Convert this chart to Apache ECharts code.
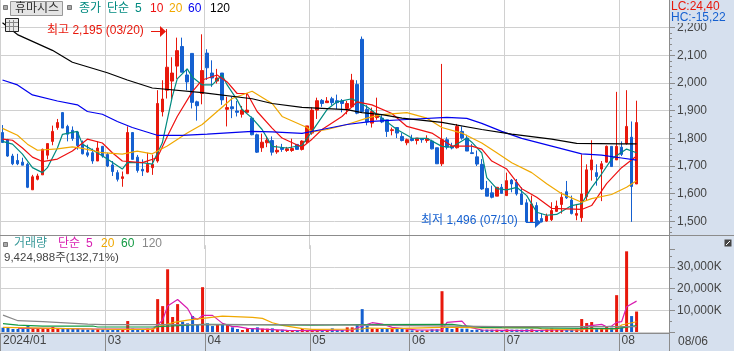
<!DOCTYPE html>
<html>
<head>
<meta charset="utf-8">
<style>
html, body { margin: 0; padding: 0; background: #fff; }
#chart { width: 734px; height: 351px; }
</style>
<script src="https://cdn.jsdelivr.net/npm/echarts@6/dist/echarts.min.js"></script>
</head>
<body>
<div id="chart"></div>
<script>
const dates = [
    '01/30','01/31',
    '02/01','02/02','02/05','02/06','02/07','02/08','02/13','02/14','02/15','02/16','02/19','02/20','02/21','02/22','02/23','02/26','02/27','02/28','02/29',
    '03/04','03/05','03/06','03/07','03/08','03/11','03/12','03/13','03/14','03/15','03/18','03/19','03/20','03/21','03/22','03/25','03/26','03/27','03/28','03/29',
    '04/01','04/02','04/03','04/04','04/05','04/08','04/09','04/11','04/12','04/15','04/16','04/17','04/18','04/19','04/22','04/23','04/24','04/25','04/26','04/29','04/30',
    '05/02','05/03','05/07','05/08','05/09','05/10','05/13','05/14','05/16','05/17','05/20','05/21','05/22','05/23','05/24','05/27','05/28','05/29','05/30','05/31',
    '06/03','06/04','06/05','06/07','06/10','06/11','06/12','06/13','06/14','06/17','06/18','06/19','06/20','06/21','06/24','06/25','06/26','06/27','06/28',
    '07/01','07/02','07/03','07/04','07/05','07/08','07/09','07/10','07/11','07/12','07/15','07/16','07/17','07/18','07/19','07/22','07/23','07/24','07/25','07/26','07/29','07/30','07/31',
    '08/01','08/02','08/05','08/06'
];
const blankSlots = ['', '', '', '', '', ''];
const monthStarts = [0, 21, 41, 62, 82, 101, 124];
const monthLabels = ['2024/01', '03', '04', '05', '06', '07', '08'];

const opens = [
    1821,1795,1736,1720,1714,1706,1614,1652,1668,1739,1789,1839,1893,1843,1829,1823,1780,1748,1748,1718,
    1771,1742,1704,1676,1655,1672,1821,1732,1688,1678,1694,1718,1896,1974,2007,2061,2132,2029,2107,1932,
    1962,2108,2036,2007,2036,1905,1914,1899,1887,1894,1873,1813,1766,1784,1792,1751,1766,1756,1756,1778,
    1760,1787,1819,1902,1937,1929,1943,1936,1935,1908,1914,1995,2158,1905,1855,1875,1873,1867,1828,1839,
    1807,1784,1799,1792,1799,1792,1790,1766,1708,1795,1772,1766,1825,1801,1748,1733,1706,1619,1603,1591,
    1623,1593,1649,1641,1599,1567,1498,1557,1510,1501,1506,1536,1561,1607,1577,1522,1513,1589,1686,1676,
    1689,1714,1771,1722,1768,1781,1804,1635
];
const closes = [
    1785,1736,1708,1708,1703,1623,1661,1664,1760,1781,1825,1857,1837,1815,1799,1774,1744,1739,1718,1765,
    1736,1700,1680,1652,1661,1821,1724,1684,1682,1706,1706,1926,1942,2057,2036,2117,2039,2004,1930,1918,
    2045,2055,2018,2018,1939,1911,1907,1894,1902,1902,1813,1750,1786,1793,1750,1757,1760,1762,1763,1760,
    1790,1845,1902,1936,1926,1935,1929,1929,1926,1926,2010,1891,1897,1859,1897,1888,1859,1825,1831,1819,
    1792,1795,1792,1801,1795,1799,1762,1708,1795,1768,1765,1843,1801,1754,1745,1707,1617,1591,1587,1623,
    1601,1647,1635,1599,1561,1498,1563,1506,1498,1519,1539,1555,1587,1585,1528,1528,1599,1686,1722,1662,
    1708,1771,1698,1771,1742,1843,1626,1857
];
const highs = [
    1848,1798,1744,1744,1730,1712,1668,1672,1763,1781,1846,1870,1895,1849,1843,1825,1792,1777,1763,1789,
    1771,1748,1718,1685,1680,1843,1821,1740,1724,1748,1741,1974,2010,2195,2093,2164,2164,2051,2107,1936,
    2176,2122,2082,2051,2036,1950,1950,1935,1917,1962,1879,1817,1817,1807,1807,1775,1780,1769,1799,1778,
    1793,1845,1911,1947,1942,1949,1950,1958,1942,1935,2033,2010,2168,1920,1911,1947,1885,1867,1839,1839,
    1819,1799,1813,1801,1801,1811,1795,1766,2069,1804,1784,1852,1843,1813,1780,1756,1725,1646,1629,1623,
    1635,1676,1653,1653,1623,1580,1593,1569,1528,1528,1569,1575,1605,1646,1593,1563,1742,1706,1793,1706,
    1718,1774,1771,1968,1789,1974,1861,1936
];
const lows = [
    1783,1733,1703,1703,1703,1620,1614,1648,1668,1724,1775,1831,1837,1789,1791,1759,1742,1732,1708,1718,
    1730,1696,1664,1644,1625,1672,1724,1676,1664,1676,1668,1712,1879,1944,1942,2015,2039,1974,1908,1864,
    1923,2011,1986,1998,1921,1843,1873,1879,1875,1894,1811,1747,1751,1768,1738,1744,1751,1751,1751,1760,
    1756,1780,1813,1870,1914,1929,1920,1906,1894,1887,1911,1887,1894,1847,1839,1867,1855,1805,1811,1801,
    1789,1775,1789,1778,1784,1784,1760,1708,1700,1760,1760,1763,1795,1754,1744,1700,1614,1591,1583,1591,
    1599,1593,1605,1593,1561,1498,1498,1501,1496,1499,1501,1534,1528,1581,1525,1504,1498,1575,1647,1629,
    1573,1712,1698,1722,1736,1777,1498,1635
];
const volumes = [
    1990,1990,1380,1380,1680,2750,1680,1680,1530,1530,2300,1380,1530,1530,1530,1530,1220,1070,1220,1220,
    1220,920,920,1070,920,5050,1530,1380,1380,1530,1530,15150,11930,28900,6900,12850,4750,4000,7350,3200,
    20650,4000,2750,3200,3200,3200,2140,1380,920,1680,1530,2140,1530,1530,1680,920,1070,610,765,765,
    1380,765,920,920,920,920,1680,920,920,2140,2140,3670,10550,2900,1530,1530,1530,1380,1380,1530,
    1840,1220,765,765,765,765,1220,1220,18800,1840,1380,2450,1530,1530,920,1070,1070,1070,1070,1070,
    920,1220,1070,1070,1070,1220,1220,920,920,1220,1530,1220,1070,920,1220,1220,5970,4130,4590,1680,
    1530,2450,1990,16980,2140,37180,7340,9425
];

// moving averages, at the candles listed in the *At arrays
const ma5At = [0,2,4,6,8,9,11,12,15,16,19,21,24,25,28,30,32,34,35,37,38,40,42,44,45,47,48,50,52,54,57,60,62,65,67,70,73,76,79,82,85,88,90,93,94,96,97,99,101,103,105,107,109,111,114,116,118,120,122,125,127];
const ma5 = [1789,1779,1743,1694,1676,1694,1765,1814,1825,1779,1748,1725,1689,1712,1712,1707,1783,1950,2015,2051,2022,1993,1993,2029,1993,1939,1904,1873,1832,1771,1765,1775,1825,1904,1932,1943,1914,1873,1832,1801,1800,1771,1768,1801,1786,1747,1658,1618,1614,1623,1593,1533,1522,1525,1557,1564,1622,1671,1725,1761,1748];
const ma10At = [0,2,4,6,8,11,14,17,20,22,24,28,31,33,35,38,40,43,45,47,49,51,54,56,60,62,64,68,71,74,78,81,86,90,94,96,98,101,104,107,110,116,118,121,124,127];
const ma10 = [1797,1793,1765,1732,1716,1725,1754,1797,1783,1748,1718,1712,1730,1807,1879,1968,2011,2029,2004,1962,1962,1897,1837,1801,1768,1797,1832,1879,1932,1921,1890,1843,1819,1772,1772,1761,1718,1689,1618,1587,1547,1543,1557,1636,1694,1736];
const ma20At = [0,3,5,7,11,14,16,20,24,27,30,33,37,40,43,46,50,54,56,61,62,65,69,73,76,81,85,88,92,96,99,102,106,109,112,116,118,122,125,127];
const ma20 = [1836,1811,1779,1757,1762,1769,1764,1748,1743,1754,1744,1772,1819,1850,1897,1944,1970,1926,1879,1839,1823,1832,1850,1873,1886,1893,1873,1839,1819,1783,1748,1712,1676,1636,1600,1569,1582,1597,1623,1647];
const ma60At = [0,3,6,11,15,17,20,23,26,31,36,41,50,54,60,64,69,74,81,89,93,96,100,104,110,116,120,124,127];
const ma60 = [2011,1993,1957,1935,1921,1897,1887,1861,1839,1811,1811,1815,1825,1823,1818,1832,1850,1861,1868,1876,1872,1854,1825,1800,1772,1744,1739,1729,1721];
const ma120At = [0,3,10,14,21,25,30,40,50,54,60,69,72,76,80,88,96,102,110,115,124,127];
const ma120 = [2218,2175,2118,2075,2037,2011,1982,1965,1943,1926,1912,1904,1893,1886,1873,1858,1832,1815,1797,1782,1780,1780];

const vol5At = [3,10,18,30,31,32,33,35,37,38,39,40,42,44,46,47,49,57,62,70,72,74,76,78,83,88,89,92,93,96,100,105,111,116,117,120,121,122,123,124,125,127];
const vol5 = [1680,1680,1380,1380,3210,5500,11930,15000,10860,6730,5810,7650,7650,3980,2450,2450,1680,765,610,920,2750,4280,3670,2140,920,920,4440,5050,2450,920,765,610,920,920,2750,3520,2450,2750,4440,4740,11630,14230];
const vol20At = [0,10,18,24,30,31,34,37,40,44,50,52,54,56,60,62,72,73,78,88,92,96,107,108,116,117,123,124,127];
const vol20 = [2140,1680,1380,1220,1220,2450,4280,5500,6270,7340,6730,6270,4280,3060,1530,1220,1380,1840,1530,2140,2140,1840,2140,1380,920,1530,1380,3210,4740];
const vol60At = [0,3,8,18,19,30,33,40,49,62,72,90,92,96,100,123,127];
const vol60 = [3830,3210,2750,2750,2300,2300,2750,3520,3370,3210,3370,3520,2900,2140,1990,1530,2900];
const vol120At = [0,3,8,17,20,62,72,100,127];
const vol120 = [7800,5200,4750,3670,3370,3370,3200,2450,2450];

const priceTicks = [1500, 1600, 1700, 1800, 1900, 2000, 2100, 2200];

const red = '#e8180c';
const blue = '#1560d0';
const panel = '#d6e0ee';
const gridLine = '#d0d0d0';
const axisColor = '#8c8c8c';
const fontName = '"Liberation Sans","Noto Sans CJK KR",sans-serif';

const categories = dates.concat(blankSlots);

function pairs (at, values) {
    return at.map((c, k) => [c, values[k]]);
}

function lineSeries (name, at, values, color, axisIndex) {
    return {
        name: name,
        type: 'line',
        xAxisIndex: axisIndex,
        yAxisIndex: axisIndex,
        data: pairs(at, values),
        symbol: 'none',
        z: 4,
        silent: true,
        lineStyle: { color: color, width: 1.2 }
    };
}

function label (text, x, y, color, size) {
    return {
        type: 'text',
        z: 12,
        silent: true,
        style: { text: text, x: x, y: y, fill: color, font: (size || 12) + 'px ' + fontName, verticalAlign: 'middle' }
    };
}

function box (x, y, w, h, fill, stroke) {
    return {
        type: 'rect',
        z: 11,
        silent: true,
        shape: { x: x, y: y, width: w, height: h },
        style: { fill: fill, stroke: stroke || null, lineWidth: 1 }
    };
}

function rule (x1, y1, x2, y2, color, width) {
    return {
        type: 'line',
        z: 11,
        silent: true,
        shape: { x1: x1, y1: y1, x2: x2, y2: y2 },
        style: { stroke: color, lineWidth: width || 1 }
    };
}

function head (points, color) {
    return {
        type: 'polygon',
        z: 11,
        silent: true,
        shape: { points: points },
        style: { fill: color }
    };
}

const isMonthStart = (i) => monthStarts.includes(i);

const opts = {
    animation: false,
    backgroundColor: panel,
    grid: [
        { left: 0, right: 65, top: -3, height: 252, show: true, backgroundColor: '#fff', borderWidth: 0 },
        { left: 0, right: 65, top: 245.2, height: 86.8, show: true, backgroundColor: '#fff', borderWidth: 0 }
    ],
    xAxis: [
        {
            type: 'category',
            gridIndex: 0,
            data: categories,
            axisLine: { show: false },
            axisTick: { show: false },
            axisLabel: { show: false },
            splitLine: { show: true, interval: isMonthStart, lineStyle: { color: gridLine, width: 1 } }
        },
        {
            type: 'category',
            gridIndex: 1,
            data: categories,
            offset: 1,
            axisLine: { show: true, onZero: false, lineStyle: { color: axisColor, width: 1 } },
            axisTick: { show: true, interval: isMonthStart, length: 18, lineStyle: { color: axisColor, width: 1 } },
            axisLabel: {
                show: true,
                interval: isMonthStart,
                align: 'left',
                margin: 2,
                color: '#444',
                fontFamily: fontName,
                fontSize: 12,
                formatter: (v, i) => monthLabels[monthStarts.indexOf(i)] || ''
            },
            splitLine: { show: true, interval: isMonthStart, lineStyle: { color: gridLine, width: 1 } }
        }
    ],
    yAxis: [
        {
            type: 'value',
            gridIndex: 0,
            position: 'right',
            min: 1400,
            max: 2300,
            interval: 100,
            axisLine: { show: true, lineStyle: { color: axisColor } },
            axisTick: { show: true, length: 6, lineStyle: { color: axisColor } },
            minorTick: { show: true, splitNumber: 5, length: 3, lineStyle: { color: axisColor } },
            axisLabel: {
                margin: 8,
                color: '#444',
                fontFamily: fontName,
                fontSize: 12,
                formatter: (v) => priceTicks.includes(v) ? v.toLocaleString('en-US') : ''
            },
            splitLine: { show: true, showMinLine: false, showMaxLine: false, lineStyle: { color: gridLine, width: 1 } }
        },
        {
            type: 'value',
            gridIndex: 1,
            position: 'right',
            min: 0,
            max: 40000,
            interval: 10000,
            axisLine: { show: true, lineStyle: { color: axisColor } },
            axisTick: { show: true, length: 6, lineStyle: { color: axisColor } },
            minorTick: { show: true, splitNumber: 2, length: 3, lineStyle: { color: axisColor } },
            axisLabel: {
                margin: 8,
                color: '#444',
                fontFamily: fontName,
                fontSize: 12,
                formatter: (v) => (v > 0 && v <= 30000) ? v.toLocaleString('en-US') + 'K' : ''
            },
            splitLine: { show: true, showMaxLine: false, lineStyle: { color: gridLine, width: 1 } }
        }
    ],
    series: [
        {
            name: '종가',
            type: 'candlestick',
            xAxisIndex: 0,
            yAxisIndex: 0,
            barWidth: 3,
            z: 3,
            silent: true,
            data: opens.map((o, i) => [o, closes[i], lows[i], highs[i]]),
            itemStyle: { color: red, color0: blue, borderColor: red, borderColor0: blue, borderWidth: 1 }
        },
        {
            name: '거래량',
            type: 'bar',
            xAxisIndex: 1,
            yAxisIndex: 1,
            barWidth: 3,
            silent: true,
            data: volumes,
            itemStyle: { color: (p) => closes[p.dataIndex] >= opens[p.dataIndex] ? red : blue }
        },
        lineSeries('5', ma5At, ma5, '#008a80', 0),
        lineSeries('10', ma10At, ma10, '#ee1111', 0),
        lineSeries('20', ma20At, ma20, '#f0a800', 0),
        lineSeries('60', ma60At, ma60, '#0000ee', 0),
        lineSeries('120', ma120At, ma120, '#000000', 0),
        lineSeries('v5', vol5At, vol5, '#d81eb0', 1),
        lineSeries('v20', vol20At, vol20, '#f0a800', 1),
        lineSeries('v60', vol60At, vol60, '#139a43', 1),
        lineSeries('v120', vol120At, vol120, '#888888', 1)
    ],
    graphic: { elements: [
        // covers the part of the price axis that runs under the volume panel
        box(670, 236, 64, 13, panel),
        rule(0, 235.5, 734, 235.5, axisColor),
        rule(669.5, 333, 669.5, 351, axisColor),
        box(670, 0, 64, 23, panel),
        label('LC:24,40', 671, 7, red),
        label('HC:-15,22', 671, 18, blue),
        label('08/06', 678, 342, '#444'),
        // header
        box(3.5, 5.5, 4, 4, '#aaa', '#777'),
        box(10.5, 1.5, 52, 14, '#e4e4e4', '#999'),
        label('휴마시스', 15, 9, '#333'),
        box(67.5, 5.5, 4, 4, '#aaa', '#777'),
        label('종가', 79, 9, '#008a80'),
        label('단순', 107, 9, '#008a80'),
        label('5', 135, 9, '#008a80'),
        label('10', 150, 9, '#ee1111'),
        label('20', 169, 9, '#f0a800'),
        label('60', 188, 9, '#0000ee'),
        label('120', 210, 9, '#000'),
        box(5.5, 18.5, 13, 13, '#e8e8e8', '#222'),
        rule(6, 22.5, 18, 22.5, '#888'),
        rule(6, 26.5, 18, 26.5, '#888'),
        rule(9.5, 20, 9.5, 31, '#888'),
        rule(13.5, 20, 13.5, 31, '#888'),
        // high and low notes
        label('최고 2,195 (03/20)', 47, 31, red),
        rule(151, 31.5, 160, 31.5, red),
        head([[160, 26], [166, 31.5], [160, 37]], red),
        label('최저 1,496 (07/10)', 421, 221, blue),
        rule(526, 222.5, 535, 222.5, blue),
        head([[535, 217], [541, 222.5], [535, 228]], blue),
        // volume header
        box(3.5, 242.5, 4, 4, '#aaa', '#777'),
        label('거래량', 14, 244, '#3a9a9a'),
        label('단순', 58, 244, '#d81eb0'),
        label('5', 86, 244, '#d81eb0'),
        label('20', 101, 244, '#f0a800'),
        label('60', 121, 244, '#139a43'),
        label('120', 142, 244, '#888'),
        label('9,424,988주(132,71%)', 4, 258, '#444', 11.5),
        box(724.5, 239.5, 7, 7, '#444'),
        rule(726, 245, 730, 241, '#fff')
    ] }
};

echarts.init(document.getElementById('chart')).setOption(opts);
</script>
</body>
</html>
